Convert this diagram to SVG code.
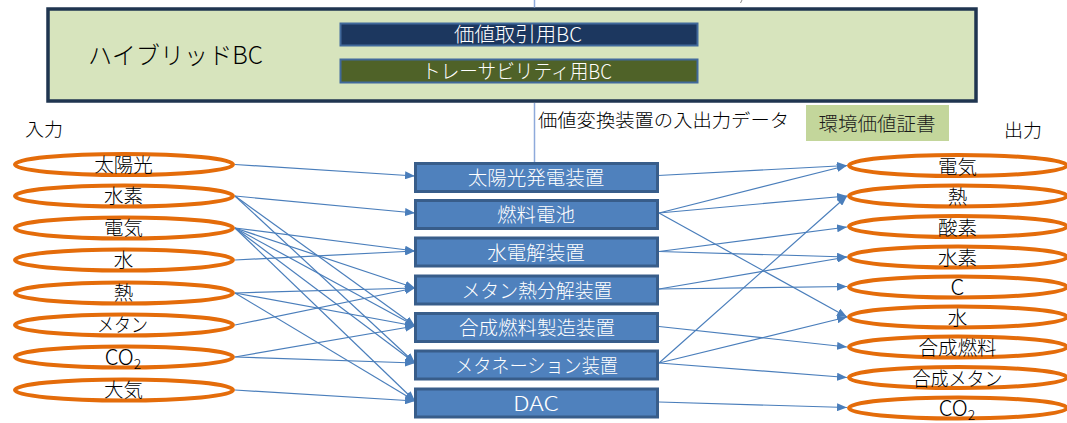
<svg xmlns="http://www.w3.org/2000/svg" width="1067" height="423" viewBox="0 0 1067 423">
<defs>
<marker id="ah" markerUnits="userSpaceOnUse" markerWidth="10" markerHeight="8" refX="10" refY="4" orient="auto">
<path d="M0,0 L10,4 L0,8 z" fill="#4a7ebb"/>
</marker>
<style>
text{font-family:"Noto Sans CJK JP","Noto Sans",sans-serif;font-weight:300;}
.ell{fill:none;stroke:#e46c0a;stroke-width:4;}
.lbl{font-size:19.5px;fill:#000;text-anchor:middle;}
.dev rect{fill:#4f81bd;stroke:#385d8a;stroke-width:3;}
.dtx{font-size:19.5px;fill:#fff;text-anchor:middle;}
.con line{stroke:#4a7ebb;stroke-width:1.2;marker-end:url(#ah);}
.vl{stroke:#8eaadb;stroke-width:1.5;}
.hd{font-size:18px;fill:#000;}
.lat{font-size:22px;}
</style>
</defs>

<g id="hybrid-bc">
<rect x="48" y="9" width="928" height="92" fill="#d7e4bd" stroke="#1f3550" stroke-width="3.5"/>
<text x="88" y="64" font-size="24" fill="#000" textLength="175" lengthAdjust="spacingAndGlyphs">ハイブリッドBC</text>
</g>
<g id="value-bc">
<rect x="340.5" y="23.5" width="357" height="22" fill="#1c375f" stroke="#41699b" stroke-width="2"/>
<text x="518" y="42" font-size="20" fill="#fff" text-anchor="middle" textLength="128" lengthAdjust="spacingAndGlyphs">価値取引用BC</text>
</g>
<g id="trace-bc">
<rect x="340.5" y="59.5" width="357" height="23" fill="#4f6228" stroke="#41699b" stroke-width="2"/>
<text x="517" y="79" font-size="20" fill="#fff" text-anchor="middle" textLength="190" lengthAdjust="spacingAndGlyphs">トレーサビリティ用BC</text>
</g>

<g id="headings">
<text class="hd" x="25" y="136" textLength="38" lengthAdjust="spacingAndGlyphs">入力</text>
<text class="hd" x="1004" y="136.5" textLength="38" lengthAdjust="spacingAndGlyphs">出力</text>
<text class="hd" x="538" y="126.5" font-size="19" textLength="251" lengthAdjust="spacingAndGlyphs">価値変換装置の入出力データ</text>
</g>
<g id="certificate">
<rect x="806" y="105" width="143" height="36" fill="#c3d69b"/>
<text x="877" y="131" font-size="19.5" fill="#1a1a1a" text-anchor="middle" textLength="117" lengthAdjust="spacingAndGlyphs">環境価値証書</text>
</g>

<g id="connectors">
<line class="vl" x1="534.5" y1="0" x2="534.5" y2="7.5"/>
<line class="vl" x1="534.5" y1="103" x2="534.5" y2="162"/>
<line x1="742" y1="0" x2="740.5" y2="3" stroke="#888" stroke-width="1"/>
<g class="con">
<line x1="235" y1="164.5" x2="415" y2="176"/>
<line x1="235" y1="196" x2="415" y2="213"/>
<line x1="235" y1="196" x2="415" y2="326"/>
<line x1="235" y1="196" x2="415" y2="363"/>
<line x1="235" y1="228" x2="415" y2="251"/>
<line x1="235" y1="228" x2="415" y2="288"/>
<line x1="235" y1="228" x2="415" y2="326"/>
<line x1="235" y1="228" x2="415" y2="363"/>
<line x1="235" y1="228" x2="415" y2="401"/>
<line x1="235" y1="260" x2="415" y2="251"/>
<line x1="235" y1="293" x2="415" y2="288"/>
<line x1="235" y1="293" x2="415" y2="326"/>
<line x1="235" y1="293" x2="415" y2="401"/>
<line x1="235" y1="325" x2="415" y2="288"/>
<line x1="235" y1="357" x2="415" y2="326"/>
<line x1="235" y1="357" x2="415" y2="363"/>
<line x1="235" y1="390" x2="415" y2="401"/>

<line x1="658" y1="175.5" x2="847" y2="165.5"/>
<line x1="659" y1="213" x2="847" y2="165.5"/>
<line x1="659" y1="213" x2="847" y2="196"/>
<line x1="659" y1="213" x2="847" y2="317"/>
<line x1="659" y1="251.5" x2="847" y2="227"/>
<line x1="659" y1="251.5" x2="847" y2="257"/>
<line x1="659" y1="289" x2="847" y2="257"/>
<line x1="659" y1="289" x2="847" y2="286.5"/>
<line x1="659" y1="326.5" x2="847" y2="347"/>
<line x1="659" y1="363" x2="847" y2="196"/>
<line x1="659" y1="363" x2="847" y2="317"/>
<line x1="659" y1="363" x2="847" y2="377.5"/>
<line x1="659" y1="402" x2="847" y2="407.5"/>
</g>
</g>

<g id="in-sun"><ellipse class="ell" cx="124" cy="164.5" rx="109" ry="10.5"/><text class="lbl" x="123.5" y="171.5">太陽光</text></g>
<g id="in-h2"><ellipse class="ell" cx="124" cy="196" rx="109" ry="10.5"/><text class="lbl" x="123.5" y="203">水素</text></g>
<g id="in-elec"><ellipse class="ell" cx="124" cy="228" rx="109" ry="10.5"/><text class="lbl" x="123.5" y="235">電気</text></g>
<g id="in-water"><ellipse class="ell" cx="124" cy="260" rx="109" ry="10.5"/><text class="lbl" x="123.5" y="267">水</text></g>
<g id="in-heat"><ellipse class="ell" cx="124" cy="293" rx="109" ry="10.5"/><text class="lbl" x="123.5" y="300">熱</text></g>
<g id="in-methane"><ellipse class="ell" cx="124" cy="325" rx="109" ry="10.5"/><text class="lbl" x="122.5" y="332" textLength="51" lengthAdjust="spacingAndGlyphs">メタン</text></g>
<g id="in-co2"><ellipse class="ell" cx="124" cy="357" rx="109" ry="10.5"/><text class="lbl lat" x="123" y="365">CO<tspan dy="4" font-size="14">2</tspan></text></g>
<g id="in-air"><ellipse class="ell" cx="124" cy="390" rx="109" ry="10.5"/><text class="lbl" x="123.5" y="397">大気</text></g>

<g id="dev-solar" class="dev"><rect x="415.5" y="163.5" width="242" height="28"/><text class="dtx" x="536" y="185">太陽光発電装置</text></g>
<g id="dev-fc" class="dev"><rect x="415.5" y="200.5" width="242" height="28"/><text class="dtx" x="536" y="222">燃料電池</text></g>
<g id="dev-ely" class="dev"><rect x="415.5" y="238" width="242" height="28"/><text class="dtx" x="536" y="259.5">水電解装置</text></g>
<g id="dev-mpyro" class="dev"><rect x="415.5" y="276" width="242" height="28"/><text class="dtx" x="537" y="297.5" textLength="151" lengthAdjust="spacingAndGlyphs">メタン熱分解装置</text></g>
<g id="dev-synfuel" class="dev"><rect x="415.5" y="313.5" width="242" height="28"/><text class="dtx" x="537" y="335">合成燃料製造装置</text></g>
<g id="dev-methanation" class="dev"><rect x="415.5" y="351" width="242" height="28"/><text class="dtx" x="536.5" y="372.5" textLength="163" lengthAdjust="spacingAndGlyphs">メタネーション装置</text></g>
<g id="dev-dac" class="dev"><rect x="415.5" y="389" width="242" height="28"/><text class="dtx" x="536" y="411" font-size="22" textLength="46" lengthAdjust="spacingAndGlyphs">DAC</text></g>

<g id="out-elec"><ellipse class="ell" cx="958" cy="165.5" rx="109" ry="10.5"/><text class="lbl" x="957.5" y="173.5">電気</text></g>
<g id="out-heat"><ellipse class="ell" cx="958" cy="196" rx="109" ry="10.5"/><text class="lbl" x="957.5" y="204">熱</text></g>
<g id="out-o2"><ellipse class="ell" cx="958" cy="226.5" rx="109" ry="10.5"/><text class="lbl" x="957.5" y="234.5">酸素</text></g>
<g id="out-h2"><ellipse class="ell" cx="958" cy="257" rx="109" ry="10.5"/><text class="lbl" x="957.5" y="265">水素</text></g>
<g id="out-c"><ellipse class="ell" cx="958" cy="287" rx="109" ry="10.5"/><text class="lbl lat" x="957.5" y="295">C</text></g>
<g id="out-water"><ellipse class="ell" cx="958" cy="317" rx="109" ry="10.5"/><text class="lbl" x="957.5" y="325">水</text></g>
<g id="out-synfuel"><ellipse class="ell" cx="958" cy="347" rx="109" ry="10.5"/><text class="lbl" x="957.5" y="355">合成燃料</text></g>
<g id="out-synmethane"><ellipse class="ell" cx="958" cy="377.5" rx="109" ry="10.5"/><text class="lbl" x="957.5" y="385.5" textLength="90" lengthAdjust="spacingAndGlyphs">合成メタン</text></g>
<g id="out-co2"><ellipse class="ell" cx="958" cy="408" rx="109" ry="10.5"/><text class="lbl lat" x="957" y="416">CO<tspan dy="4" font-size="14">2</tspan></text></g>
</svg>
